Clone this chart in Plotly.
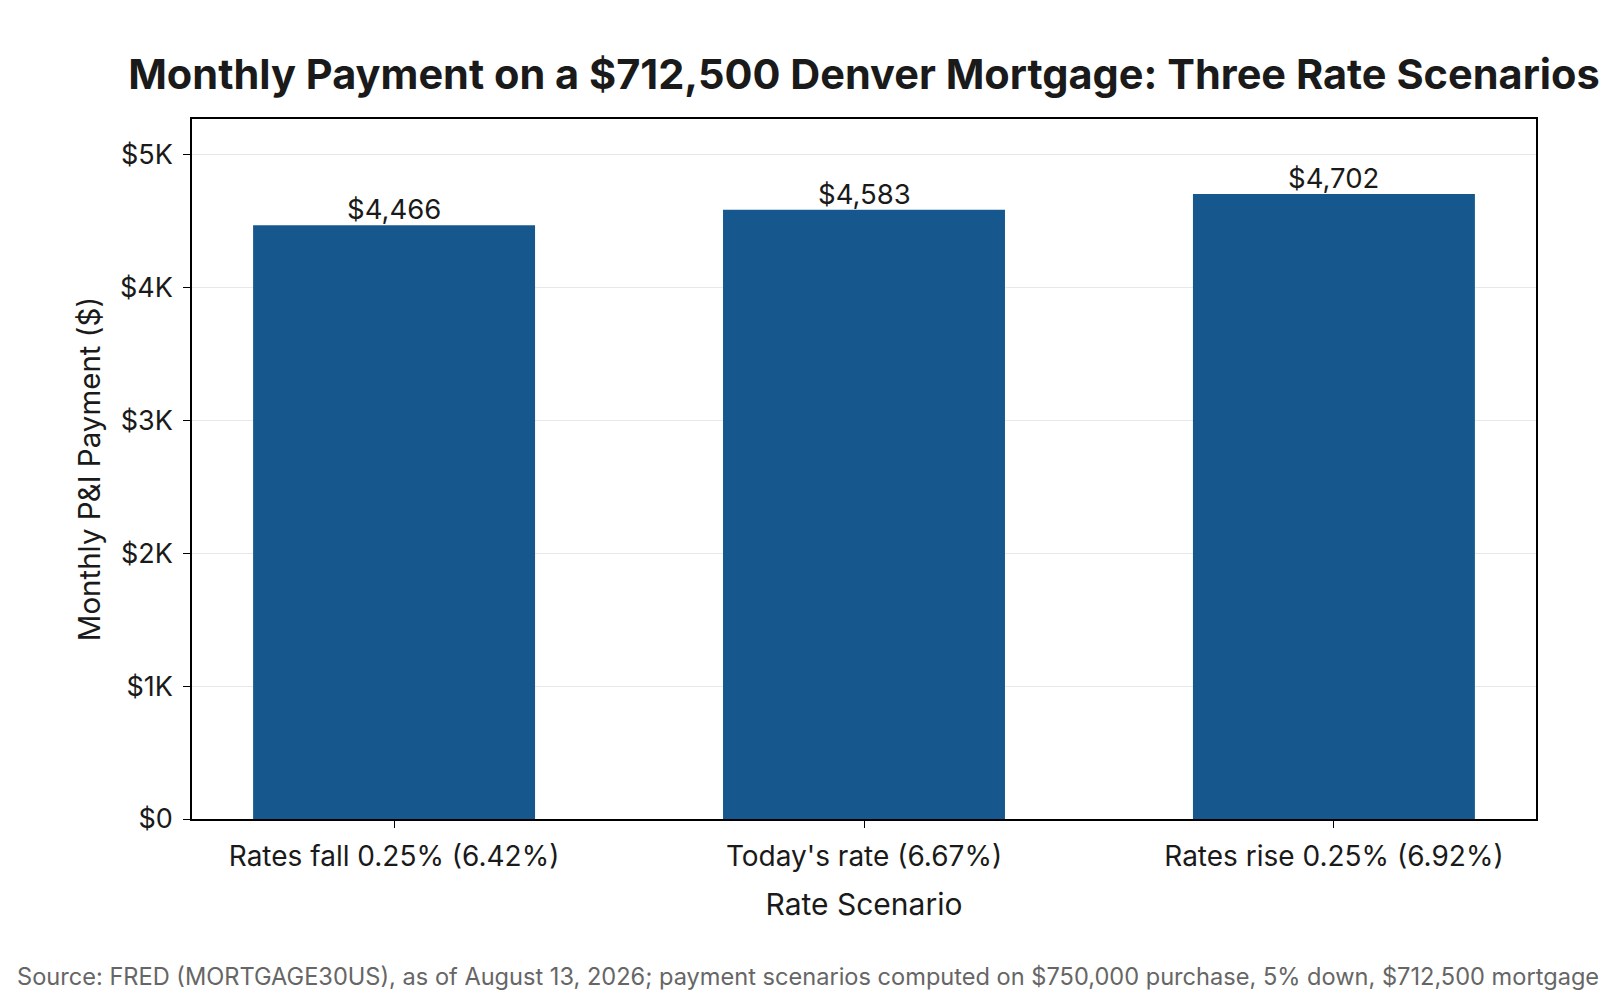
import plotly.graph_objects as go

scenarios = ["Rates fall 0.25% (6.42%)", "Today's rate (6.67%)", "Rates rise 0.25% (6.92%)"]
payments = [4466, 4583, 4702]
labels = ["$4,466", "$4,583", "$4,702"]
y_ticks = [0, 1000, 2000, 3000, 4000, 5000]
y_tick_text = ["$0", "$1K", "$2K", "$3K", "$4K", "$5K"]

fig = go.Figure(go.Bar(
    x=scenarios, y=payments,
    marker=dict(color="#16588E", line=dict(width=0)), width=0.6,
))

value_labels = [
    dict(x=s, y=v, text=t, xref="x", yref="y", xanchor="center", yanchor="bottom",
         showarrow=False, yshift=-3, font=dict(size=27.5, color="#1a1a1a"))
    for s, v, t in zip(scenarios, payments, labels)
]

fig.update_layout(
    width=1600, height=1000,
    margin=dict(l=192, r=64, t=119, b=181, autoexpand=False),
    paper_bgcolor="white", plot_bgcolor="white",
    font=dict(family="Inter", color="#1a1a1a", size=27),
    title=dict(text="<b>Monthly Payment on a $712,500 Denver Mortgage: Three Rate Scenarios</b>",
               x=0.5, xref="paper", xanchor="center", y=0.926, yref="container", yanchor="middle",
               font=dict(size=41.5, color="#1a1a1a")),
    showlegend=False,
    xaxis=dict(title=dict(text="Rate Scenario", font=dict(size=30), standoff=22),
               range=[-0.43, 2.43],
               showline=True, linecolor="black", linewidth=1.5, mirror=True,
               ticks="outside", ticklen=7, tickcolor="black", tickfont=dict(size=28),
               ticklabelstandoff=5, automargin=False),
    yaxis=dict(title=dict(text="Monthly P&I Payment ($)", font=dict(size=29.5), standoff=11),
               range=[0, 4702 * 1.12], tickvals=y_ticks, ticktext=y_tick_text,
               showline=True, linecolor="black", linewidth=1.5, mirror=True,
               ticks="outside", ticklen=7, tickcolor="black", tickfont=dict(size=27),
               ticklabelstandoff=5,
               showgrid=True, gridcolor="#e8e8ec", gridwidth=1, zeroline=False,
               automargin=False),
    annotations=value_labels + [dict(
        text="Source: FRED (MORTGAGE30US), as of August 13, 2026; payment scenarios computed on $750,000 purchase, 5% down, $712,500 mortgage.",
        xref="paper", yref="paper", x=-0.132, y=-0.225, xanchor="left", yanchor="middle",
        showarrow=False, font=dict(size=23.6, color="#666666"))],
)

fig.write_html("out.html", config={"displayModeBar": False},
               post_script="document.body.style.margin='0';")
